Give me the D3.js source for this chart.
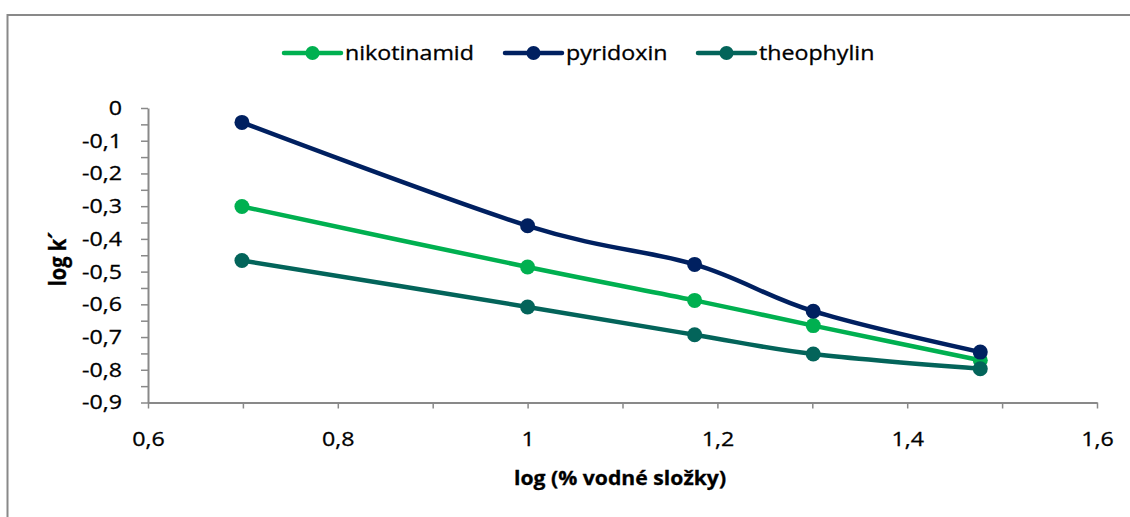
<!DOCTYPE html>
<html>
<head>
<meta charset="utf-8">
<script src="https://cdn.jsdelivr.net/npm/d3@7"></script>
<style>
  body { margin: 0; background: #fff; }
  svg { display: block; }
  text { font-family: "Open Sans", sans-serif; fill: #000; stroke: #000; stroke-width: 0.3px; }
</style>
</head>
<body>
<svg id="chart" width="1130" height="517"></svg>
<script>
// log(% water component) for 5, 10, 15, 20, 30 %
const xValues = [0.699, 1.0, 1.176, 1.301, 1.477];

// log k' for each compound
const nikotinamid = [-0.301, -0.486, -0.588, -0.665, -0.771];
const pyridoxin   = [-0.044, -0.360, -0.478, -0.621, -0.746];
const theophylin  = [-0.466, -0.608, -0.693, -0.752, -0.797];

const seriesNames  = ["nikotinamid", "pyridoxin", "theophylin"];
const seriesValues = [nikotinamid, pyridoxin, theophylin];
const seriesColors = ["#00B050", "#002060", "#03645A"];

const xTicks = [0.6, 0.8, 1.0, 1.2, 1.4, 1.6];
const xMinorTicks = [0.7, 0.9, 1.1, 1.3, 1.5];
const yTicks = [0, -0.1, -0.2, -0.3, -0.4, -0.5, -0.6, -0.7, -0.8, -0.9];
const yMinorTicks = [-0.05, -0.15, -0.25, -0.35, -0.45, -0.55, -0.65, -0.75, -0.85];

const xTitle = "log (% vodné složky)";
const yTitle = "log k´";

const svg = d3.select("#chart");
const SX = 1.16;           // horizontal stretch of lettering
const axisColor = "#898989";

const x = d3.scaleLinear().domain([0.6, 1.6]).range([148, 1097]);
const y = d3.scaleLinear().domain([0, -0.9]).range([108, 402.5]);

// decimal comma
const fmt = d => String(+d.toFixed(2)).replace(".", ",");

// outer frame
svg.append("rect")
  .attr("x", 7.5).attr("y", 15)
  .attr("width", 1200).attr("height", 600)
  .attr("fill", "none").attr("stroke", axisColor).attr("stroke-width", 2);

function stretchLabels(sel) {
  sel.selectAll("text").each(function () {
    const t = d3.select(this);
    const tx = +t.attr("x") || 0;
    const ty = +t.attr("y") || 0;
    t.attr("x", 0).attr("y", 0)
     .attr("transform", `translate(${tx},${ty}) scale(${SX},1)`);
  });
}

function styleAxis(g) {
  g.selectAll(".domain").attr("stroke", axisColor).attr("stroke-width", 2);
  g.selectAll(".tick line").attr("stroke", axisColor).attr("stroke-width", 1.5);
  g.selectAll("text").attr("font-size", 20).attr("fill", "#000");
}

// y axis
const yMinor = svg.append("g").attr("transform", `translate(${x(0.6)},0)`)
  .call(d3.axisLeft(y).tickValues(yMinorTicks).tickSize(7).tickFormat("").tickSizeOuter(0));
styleAxis(yMinor);
yMinor.select(".domain").remove();

const yAxis = svg.append("g").attr("transform", `translate(${x(0.6)},0)`)
  .call(d3.axisLeft(y).tickValues(yTicks).tickSize(7).tickPadding(19).tickFormat(fmt).tickSizeOuter(0));
styleAxis(yAxis);
yAxis.attr("font-family", null);
stretchLabels(yAxis);

// x axis
const xMinor = svg.append("g").attr("transform", `translate(0,${y(-0.9)})`)
  .call(d3.axisBottom(x).tickValues(xMinorTicks).tickSize(6).tickFormat("").tickSizeOuter(0));
styleAxis(xMinor);
xMinor.select(".domain").remove();

const xAxis = svg.append("g").attr("transform", `translate(0,${y(-0.9)})`)
  .call(d3.axisBottom(x).tickValues(xTicks).tickSize(6).tickPadding(23).tickFormat(fmt).tickSizeOuter(0));
styleAxis(xAxis);
xAxis.attr("font-family", null);
stretchLabels(xAxis);

// axis titles
svg.append("text")
  .attr("transform", `translate(620,485) scale(1.06,1)`)
  .attr("text-anchor", "middle")
  .attr("font-size", 20).attr("font-weight", "bold")
  .text(xTitle);

svg.append("text")
  .attr("transform", `translate(66,259) rotate(-90) scale(1,${SX})`)
  .attr("text-anchor", "middle")
  .attr("font-size", 20).attr("font-weight", "bold")
  .text(yTitle);

// series lines and markers
const line = d3.line()
  .x((d, i) => x(xValues[i]))
  .y(d => y(d))
  .curve(d3.curveCatmullRom.alpha(0));

seriesValues.forEach((vals, k) => {
  const g = svg.append("g");
  g.append("path")
    .datum(vals)
    .attr("d", line)
    .attr("fill", "none")
    .attr("stroke", seriesColors[k])
    .attr("stroke-width", 4.5)
    .attr("stroke-linejoin", "round")
    .attr("stroke-linecap", "round");
  g.selectAll("circle")
    .data(vals)
    .join("circle")
    .attr("cx", (d, i) => x(xValues[i]))
    .attr("cy", d => y(d))
    .attr("r", 7.5)
    .attr("fill", seriesColors[k]);
});

// legend
const legendX = [284, 505, 698];
const legend = svg.append("g");
seriesNames.forEach((name, k) => {
  const lg = legend.append("g").attr("transform", `translate(${legendX[k]},53)`);
  lg.append("line")
    .attr("x1", 0).attr("x2", 57).attr("y1", 0).attr("y2", 0)
    .attr("stroke", seriesColors[k]).attr("stroke-width", 4.5)
    .attr("stroke-linecap", "round");
  lg.append("circle").attr("cx", 28.5).attr("cy", 0).attr("r", 7)
    .attr("fill", seriesColors[k]);
  lg.append("text")
    .attr("transform", `translate(61,0) scale(${SX},1)`)
    .attr("dy", "0.35em")
    .attr("font-size", 20)
    .text(name);
});
</script>
</body>
</html>
